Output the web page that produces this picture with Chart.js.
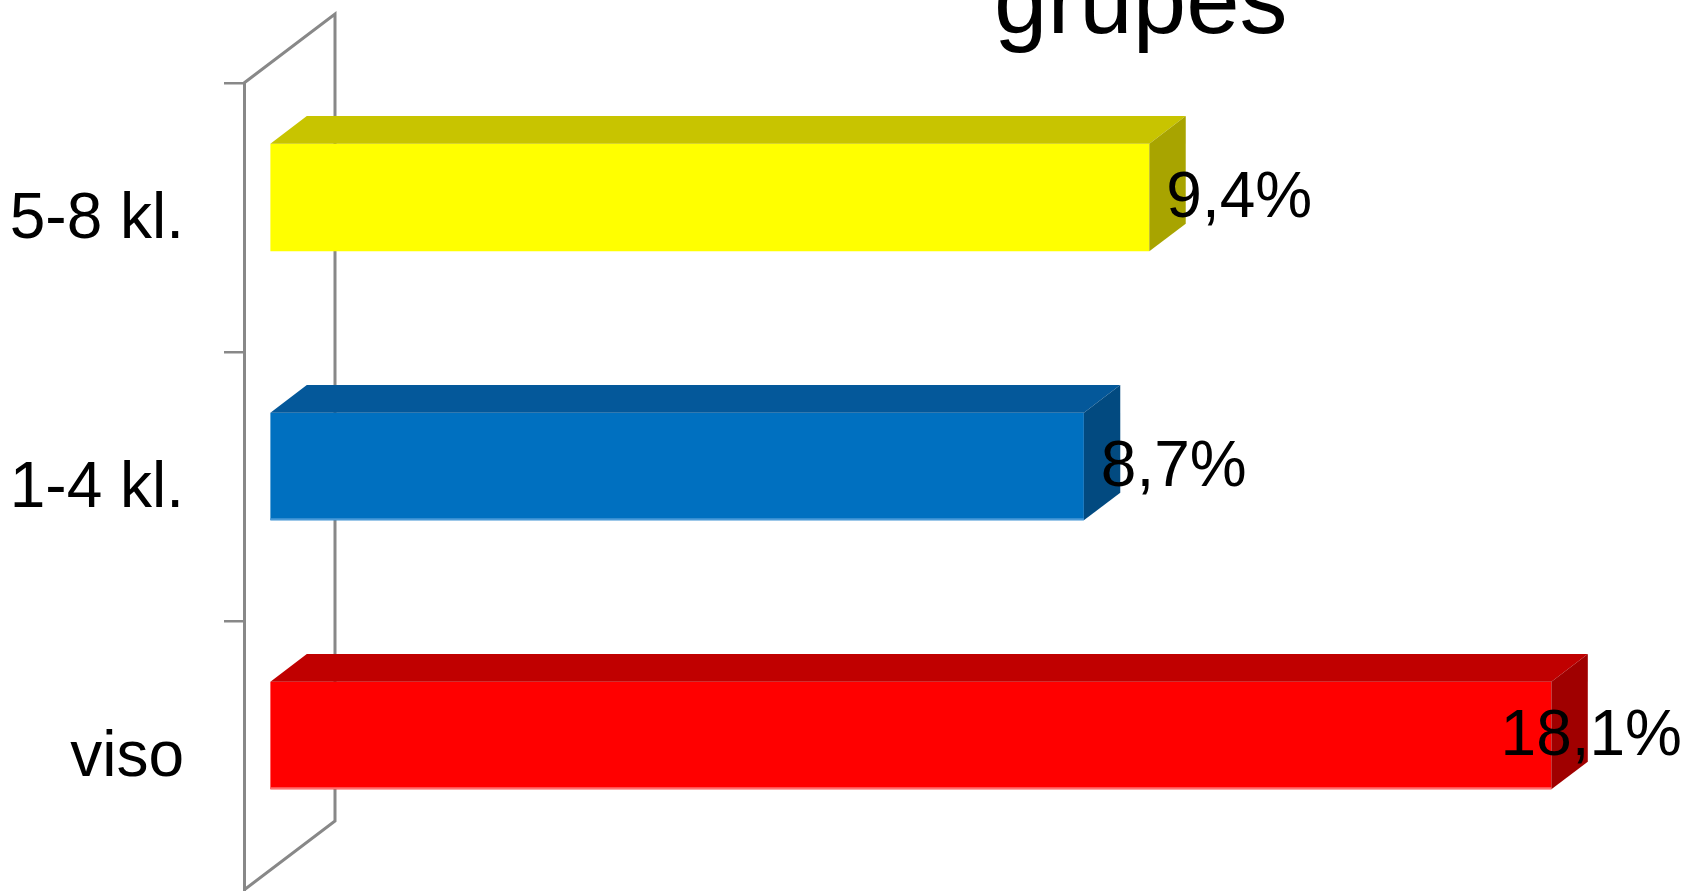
<!DOCTYPE html>
<html lang="lt">
<head>
<meta charset="UTF-8">
<title>grupes</title>
<style>
    body { margin: 0; background: #fff; overflow: hidden; }
    .wrap { position: relative; width: 1688px; height: 891px; }
    .title {
        position: absolute;
        left: 994px;
        top: -48px;
        font: 96px/96px "Liberation Sans", Arial, sans-serif;
        color: #000;
        white-space: nowrap;
    }
    canvas { position: absolute; left: 0; top: 0; }
</style>
</head>
<body>
<div class="wrap">
    <canvas id="chart" width="1688" height="891"></canvas>
    <div class="title">grupes</div>
</div>

<script src="https://cdn.jsdelivr.net/npm/chart.js"></script>
<script>
    // data
    const categories = ['5-8 kl.', '1-4 kl.', 'viso'];
    const values = [9.4, 8.7, 18.1];
    const valueLabels = ['9,4%', '8,7%', '18,1%'];
    const axisMax = 13.7; // the last bar runs past the axis and is cut

    // styles
    const frontColors = ['#FFFF00', '#0070C0', '#FF0000'];
    const topColors = ['#C8C400', '#04589A', '#C00000'];
    const sideColors = ['#A8A400', '#024A80', '#A00000'];
    const edgeColors = [null, '#4A9AD8', '#FF7070'];
    const gray = '#888888';
    const fontFamily = "'Liberation Sans', Arial, sans-serif";
    const fontSize = 64;

    // 3D look: depth of the wall, and where the bars sit inside that depth
    const depth = { x: 91, y: -69 };
    const barFront = 0.29;
    const barBack = 0.69;

    const wallPlugin = {
        id: 'wall',
        beforeDatasetsDraw(chart) {
            const { ctx, chartArea: a } = chart;
            ctx.save();
            ctx.strokeStyle = gray;
            ctx.lineWidth = 3;
            ctx.beginPath();
            ctx.moveTo(a.left, a.top);
            ctx.lineTo(a.left + depth.x, a.top + depth.y);
            ctx.lineTo(a.left + depth.x, a.bottom + depth.y);
            ctx.lineTo(a.left, a.bottom);
            ctx.stroke();
            ctx.restore();
        }
    };

    function poly(ctx, pts, color) {
        ctx.fillStyle = color;
        ctx.beginPath();
        ctx.moveTo(pts[0][0], pts[0][1]);
        for (let i = 1; i < pts.length; i++) ctx.lineTo(pts[i][0], pts[i][1]);
        ctx.closePath();
        ctx.fill();
    }

    const barPlugin = {
        id: 'bars3d',
        afterDatasetsDraw(chart) {
            const { ctx, chartArea: a } = chart;
            const x0 = chart.scales.x.getPixelForValue(0);
            const fx = depth.x * barFront, fy = depth.y * barFront;
            const dx = depth.x * (barBack - barFront), dy = depth.y * (barBack - barFront);
            ctx.save();
            chart.getDatasetMeta(0).data.forEach((bar, i) => {
                const end = Math.min(bar.x, a.right);
                const L = x0 + fx, R = end + fx;
                const T = bar.y - bar.height / 2 + fy, B = bar.y + bar.height / 2 + fy;

                poly(ctx, [[L, T], [R, T], [R, B], [L, B]], frontColors[i]);
                poly(ctx, [[L, T], [L + dx, T + dy], [R + dx, T + dy], [R, T]], topColors[i]);
                poly(ctx, [[R, T], [R + dx, T + dy], [R + dx, B + dy], [R, B]], sideColors[i]);
                if (edgeColors[i]) {
                    ctx.fillStyle = edgeColors[i];
                    ctx.fillRect(L, B - 2, R - L, 2);
                }

                // value label
                ctx.font = fontSize + 'px ' + fontFamily;
                ctx.fillStyle = '#000';
                ctx.textBaseline = 'middle';
                ctx.textAlign = 'left';
                const tw = ctx.measureText(valueLabels[i]).width;
                const lx = Math.min(R + 17, chart.width - tw - 6);
                ctx.fillText(valueLabels[i], lx, (T + B) / 2 + 2);
            });
            ctx.restore();
        }
    };

    new Chart(document.getElementById('chart'), {
        type: 'bar',
        data: {
            labels: categories,
            datasets: [{
                data: values,
                backgroundColor: 'rgba(0,0,0,0)',
                borderWidth: 0,
                barPercentage: 0.4,
                categoryPercentage: 1
            }]
        },
        options: {
            indexAxis: 'y',
            responsive: false,
            animation: false,
            devicePixelRatio: 1,
            layout: { padding: { top: 83, right: 163, bottom: 1, left: 0 } },
            plugins: {
                legend: { display: false },
                tooltip: { enabled: false }
            },
            scales: {
                x: { display: false, min: 0, max: axisMax },
                y: {
                    afterFit(scale) {
                        scale.width = 244;
                        scale.paddingTop = 0;
                        scale.paddingBottom = 0;
                    },
                    grid: {
                        offset: true,
                        drawOnChartArea: false,
                        drawTicks: true,
                        tickLength: 20,
                        // the extra closing line at the bottom edge has no tick context: hide it
                        color: c => c.type === 'tick' ? gray : 'rgba(0,0,0,0)',
                        lineWidth: 2.5
                    },
                    border: { display: true, color: gray, width: 3 },
                    ticks: {
                        color: '#000',
                        padding: 40,
                        labelOffset: 3,
                        font: { family: fontFamily, size: fontSize }
                    }
                }
            }
        },
        plugins: [wallPlugin, barPlugin]
    });
</script>
</body>
</html>
